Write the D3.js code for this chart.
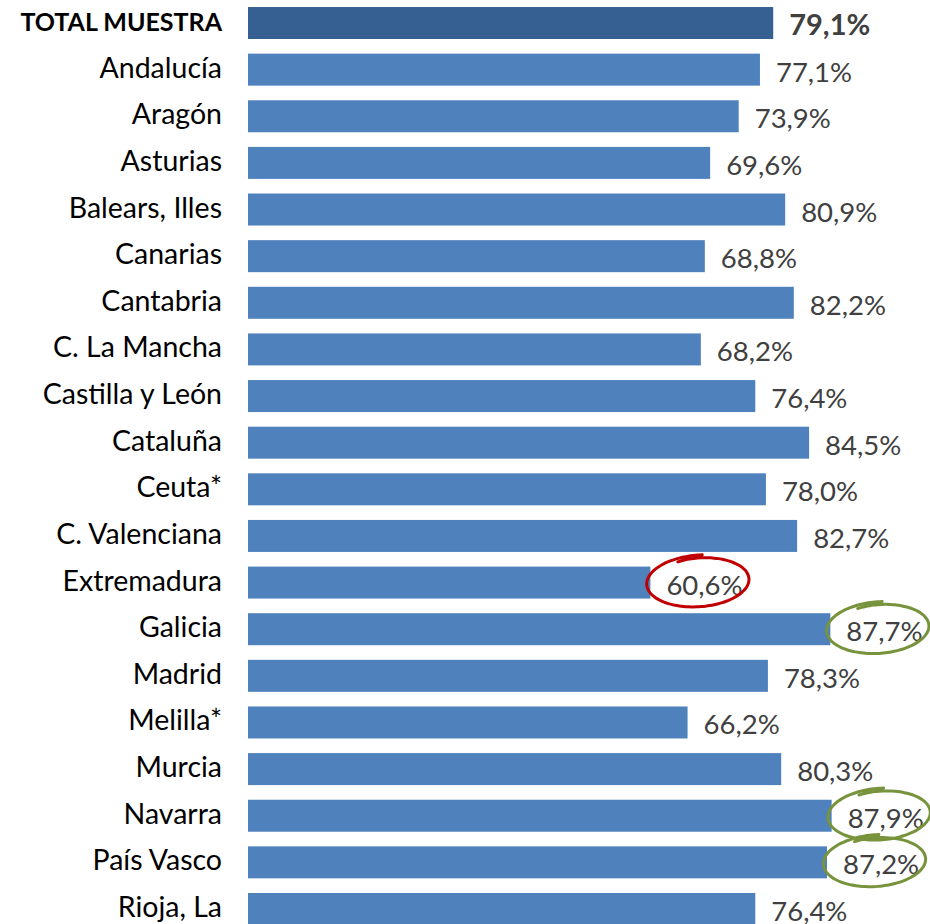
<!DOCTYPE html>
<html>
<head>
<meta charset="utf-8">
<script src="https://cdn.jsdelivr.net/npm/d3@7"></script>
<style>
  body { margin: 0; background: #fff; }
  svg { display: block; }
</style>
</head>
<body>
<script>
// datos por comunidad (% sobre la muestra)
const categories = ["TOTAL MUESTRA", "Andalucía", "Aragón", "Asturias", "Balears, Illes", "Canarias",
  "Cantabria", "C. La Mancha", "Castilla y León", "Cataluña", "Ceuta*", "C. Valenciana",
  "Extremadura", "Galicia", "Madrid", "Melilla*", "Murcia", "Navarra", "País Vasco", "Rioja, La"];
const values = [79.1, 77.1, 73.9, 69.6, 80.9, 68.8, 82.2, 68.2, 76.4, 84.5, 78.0, 82.7,
  60.6, 87.7, 78.3, 66.2, 80.3, 87.9, 87.2, 76.4];
const lowMarked = ["Extremadura"];
const highMarked = ["Galicia", "Navarra", "País Vasco"];

const w = 930, h = 924;
const data = categories.map((c, i) => ({ cat: c, val: values[i] }));

const svg = d3.select("body").append("svg")
  .attr("width", w)
  .attr("height", h);

const x = d3.scaleLinear().domain([0, 100]).range([248, 912]);
const y = d3.scaleBand()
  .domain(categories)
  .range([-0.3, 932.3])
  .paddingInner(0.314)
  .paddingOuter(0.157);

const fmt = (v) => d3.format(".1f")(v).replace(".", ",") + "%";
const font = "Lato, 'Open Sans', sans-serif";

svg.selectAll("rect.bar")
  .data(data)
  .enter()
  .append("rect")
  .attr("class", "bar")
  .attr("x", x(0))
  .attr("y", (d) => y(d.cat))
  .attr("width", (d) => x(d.val) - x(0))
  .attr("height", y.bandwidth())
  .attr("fill", (d, i) => i === 0 ? "#376092" : "#4f81bd");

// etiquetas de categoria
svg.selectAll("text.cat")
  .data(data)
  .enter()
  .append("text")
  .attr("class", "cat")
  .text((d) => d.cat)
  .attr("x", 222)
  .attr("y", (d) => y(d.cat) + y.bandwidth() / 2 + 8)
  .attr("text-anchor", "end")
  .attr("font-family", font)
  .attr("font-size", (d, i) => i === 0 ? "25px" : "28.5px")
  .attr("font-weight", (d, i) => i === 0 ? "bold" : "normal")
  .attr("fill", "#000");

// valores
svg.selectAll("text.val")
  .data(data)
  .enter()
  .append("text")
  .attr("class", "val")
  .text((d) => fmt(d.val))
  .attr("x", (d) => x(d.val) + 16)
  .attr("y", (d) => y(d.cat) + y.bandwidth() / 2 + 12)
  .attr("font-family", font)
  .attr("font-size", (d, i) => i === 0 ? "29px" : "27.5px")
  .attr("font-weight", (d, i) => i === 0 ? "bold" : "normal")
  .attr("fill", "#404040");

// circulos "a mano"
function scribble(cx, cy, rx, ry, rot) {
  const pts = [];
  for (let a = -115; a <= 275; a += 5) {
    const t = a * Math.PI / 180;
    const k = 1 + (a - 80) / 3000;
    const px = rx * k * Math.cos(t);
    const py = ry * k * Math.sin(t);
    const r = rot * Math.PI / 180;
    pts.push([cx + px * Math.cos(r) - py * Math.sin(r), cy + px * Math.sin(r) + py * Math.cos(r)]);
  }
  return d3.line().curve(d3.curveCatmullRom)(pts);
}

const marks = data.filter((d) => lowMarked.includes(d.cat) || highMarked.includes(d.cat));
svg.selectAll("path.mark")
  .data(marks)
  .enter()
  .append("path")
  .attr("class", "mark")
  .attr("d", (d) => scribble(x(d.val) + 49, y(d.cat) + y.bandwidth() / 2 - 1, 51, 25, -4))
  .attr("fill", "none")
  .attr("stroke", (d) => lowMarked.includes(d.cat) ? "#c00000" : "#77933c")
  .attr("stroke-width", 3)
  .attr("stroke-linecap", "round");
</script>
</body>
</html>
